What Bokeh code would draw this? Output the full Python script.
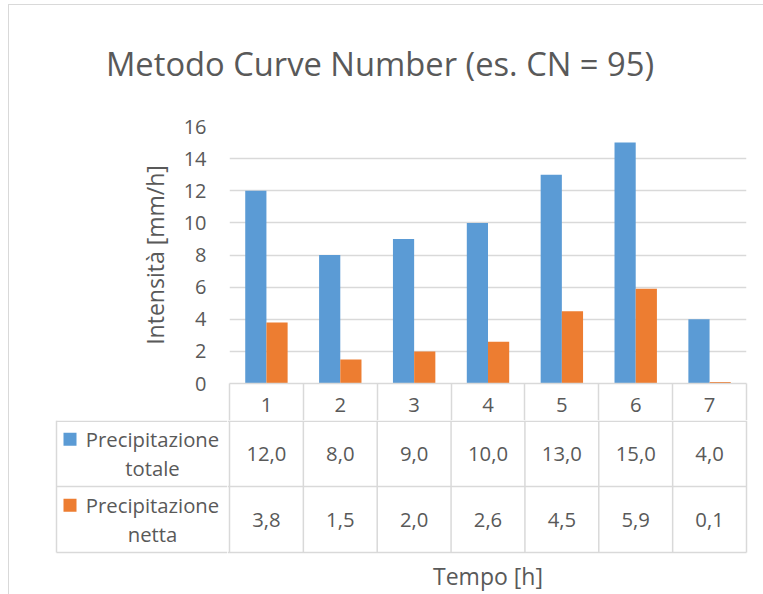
from bokeh.plotting import figure
from bokeh.models import Range1d, FixedTicker, ColumnDataSource
from bokeh.layouts import column, row
from bokeh.embed import file_html
from bokeh.resources import INLINE
from bokeh.core.properties import value

# ---------------- data ----------------
title_text = "Metodo Curve Number (es. CN = 95)"
hours = ["1", "2", "3", "4", "5", "6", "7"]
series_names = ["Precipitazione totale", "Precipitazione netta"]
prec_totale = [12.0, 8.0, 9.0, 10.0, 13.0, 15.0, 4.0]
prec_netta = [3.8, 1.5, 2.0, 2.6, 4.5, 5.9, 0.1]
y_ticks = [0, 2, 4, 6, 8, 10, 12, 14, 16]
y_label = "Intensità [mm/h]"
x_label = "Tempo [h]"

# ---------------- style ----------------
FONT = "Open Sans"
TXT = "#595959"
GRID = "#D9D9D9"
COLORS = ["#5B9BD5", "#ED7D31"]
TICK_FS = "20px"
TABLE_FS = "20.3px"
AXIS_FS = "23px"
TITLE_FS = "32.7px"
LW_GRID = 1.5

n = len(hours)
pos = [i + 1 for i in range(n)]
bounds = [i + 0.5 for i in range(n + 1)]
bar_w = 0.287
fmt = lambda v: f"{v:.1f}".replace(".", ",")

W = 754
U = 517 / n            # px per category
PAD = 2 / U


def bare(p):
    p.outline_line_color = None
    for g in list(p.xgrid) + list(p.ygrid):
        g.visible = False


# ---------------- title strip ----------------
pT = figure(width=W, height=95, x_range=Range1d(0, W), y_range=Range1d(0, 95),
            output_backend="svg", toolbar_location=None,
            x_axis_location=None, y_axis_location=None,
            min_border_left=0, min_border_right=0, min_border_top=0,
            min_border_bottom=0)
bare(pT)
pT.text(x=[370.5], y=[37], text=[title_text], text_align="center",
        text_baseline="alphabetic", text_font=value(FONT),
        text_font_size=TITLE_FS, text_color=TXT)

# ---------------- chart ----------------
pA = figure(width=W, height=320,
            x_range=Range1d(0.5, n + 0.5), y_range=Range1d(0, max(y_ticks)),
            output_backend="svg", toolbar_location=None,
            min_border_left=220, min_border_right=17, min_border_top=26,
            min_border_bottom=37)
pA.outline_line_color = None
pA.xgrid.visible = False

ya = pA.yaxis[0]
ya.ticker = FixedTicker(ticks=y_ticks)
ya.axis_line_color = None
ya.major_tick_line_color = None
ya.minor_tick_line_color = None
ya.major_tick_out = 0
ya.major_tick_in = 0
ya.minor_tick_out = 0
ya.minor_tick_in = 0
ya.major_label_standoff = 23
ya.major_label_text_font = FONT
ya.major_label_text_font_size = TICK_FS
ya.major_label_text_color = TXT
ya.axis_label = y_label
ya.axis_label_standoff = 10
ya.axis_label_text_font = FONT
ya.axis_label_text_font_size = AXIS_FS
ya.axis_label_text_font_style = "normal"
ya.axis_label_text_color = TXT

# x axis = header row of the data table
xa = pA.xaxis[0]
xa.ticker = FixedTicker(ticks=pos, minor_ticks=bounds)
xa.major_label_overrides = {p: h for p, h in zip(pos, hours)}
xa.axis_line_color = GRID
xa.axis_line_width = LW_GRID
xa.major_tick_line_color = None
xa.major_tick_out = 0
xa.major_tick_in = 0
xa.minor_tick_line_color = GRID
xa.minor_tick_line_width = LW_GRID
xa.minor_tick_in = 0
xa.minor_tick_out = 37
xa.major_label_standoff = -23
xa.major_label_text_font = FONT
xa.major_label_text_font_size = TABLE_FS
xa.major_label_text_color = TXT

pA.ygrid.ticker = FixedTicker(ticks=y_ticks)
pA.ygrid.grid_line_color = GRID
pA.ygrid.grid_line_width = LW_GRID

src = ColumnDataSource(dict(
    x_tot=[p - bar_w / 2 for p in pos],
    x_net=[p + bar_w / 2 for p in pos],
    tot=prec_totale, net=prec_netta))
pA.vbar(x="x_tot", top="tot", bottom=0, width=bar_w, source=src,
        fill_color=COLORS[0], line_color=None)
pA.vbar(x="x_net", top="net", bottom=0, width=bar_w, source=src,
        fill_color=COLORS[1], line_color=None)

# ---------------- data table rows ----------------
Y0 = 2
ROW = 67.5
TOP = Y0 + 2 * ROW
row_net = Y0 + ROW / 2
row_tot = Y0 + 1.5 * ROW

pB = figure(width=763 - 227, height=174,
            x_range=Range1d(0.5 - PAD, n + 0.5 + PAD), y_range=Range1d(0, TOP),
            output_backend="svg", toolbar_location=None, y_axis_location=None,
            min_border_left=0, min_border_right=15, min_border_top=0,
            min_border_bottom=37)
bare(pB)
xb = pB.xaxis[0]
xb.ticker = FixedTicker(ticks=[])
xb.axis_line_color = None
xb.major_tick_line_color = None
xb.minor_tick_line_color = None
xb.major_tick_out = 0
xb.minor_tick_out = 0
xb.major_label_standoff = 0
xb.axis_label = x_label
xb.axis_label_standoff = 5
xb.axis_label_text_font = FONT
xb.axis_label_text_font_size = AXIS_FS
xb.axis_label_text_font_style = "normal"
xb.axis_label_text_color = TXT

x_start = 0.5 - PAD
hy = [Y0, Y0 + ROW, TOP - 0.75]
pB.segment(x0=[x_start] * 3, x1=[n + 0.5] * 3, y0=hy, y1=hy,
           line_color=GRID, line_width=LW_GRID)
pB.segment(x0=bounds, x1=bounds, y0=[Y0] * len(bounds), y1=[TOP] * len(bounds),
           line_color=GRID, line_width=LW_GRID)

tstyle = dict(text_font=value(FONT), text_font_size=TABLE_FS, text_color=TXT,
              text_align="center", text_baseline="middle")
pB.text(x=pos, y=[row_tot] * n, text=[fmt(v) for v in prec_totale], **tstyle)
pB.text(x=pos, y=[row_net] * n, text=[fmt(v) for v in prec_netta], **tstyle)

# legend column of the table
LW = 173
pC = figure(width=227 - 9, height=174,
            x_range=Range1d(0, LW), y_range=Range1d(0, TOP),
            output_backend="svg", toolbar_location=None,
            x_axis_location=None, y_axis_location=None,
            min_border_left=45, min_border_right=0, min_border_top=0,
            min_border_bottom=37)
bare(pC)
pC.segment(x0=[2] * 3, x1=[LW] * 3, y0=hy, y1=hy,
           line_color=GRID, line_width=LW_GRID)
pC.segment(x0=[2], x1=[2], y0=[Y0], y1=[TOP],
           line_color=GRID, line_width=LW_GRID)
pC.text(x=[98, 98], y=[row_tot, row_net],
        text=[s.replace(" ", "\n") for s in series_names],
        text_line_height=1.06, **tstyle)
pC.scatter(x=[15.5, 15.5], y=[row_tot + 14.5, row_net + 14.5], marker="square",
           size=13, fill_color=COLORS, line_color=None)

layout = column(row(pT), pA, row(pC, pB),
                styles={"margin-left": "8px", "margin-top": "4px",
                        "border-left": "1px solid #D9D9D9",
                        "border-top": "1px solid #D9D9D9"})

open("out.html", "w").write(file_html(layout, INLINE))
